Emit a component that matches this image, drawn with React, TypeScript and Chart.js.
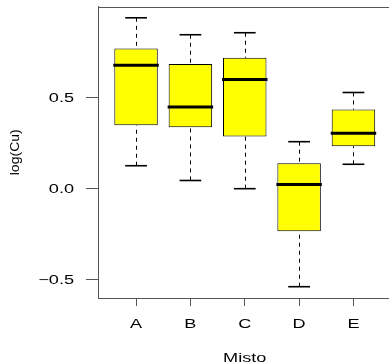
import React, { useEffect, useRef } from 'react';
import { Chart, registerables } from 'chart.js';

Chart.register(...registerables);

// ---- data ----
const categories = ['A', 'B', 'C', 'D', 'E'];
const whiskerLow = [0.126, 0.045, 0.0, -0.538, 0.134];
const lowerQuartile = [0.348, 0.337, 0.287, -0.233, 0.233];
const medians = [0.678, 0.448, 0.599, 0.023, 0.304];
const upperQuartile = [0.77, 0.685, 0.719, 0.14, 0.435];
const whiskerHigh = [0.938, 0.845, 0.856, 0.258, 0.528];
const yTickValues = [-0.5, 0, 0.5];
const yTickLabels = ['\u22120.5', '0.0', '0.5'];
const xTitle = 'Misto';
const yTitle = 'log(Cu)';

const FONT = '"Liberation Sans", Arial, Helvetica, sans-serif';
const FRAME = '#555';

function drawText(
  ctx: CanvasRenderingContext2D,
  text: string,
  x: number,
  y: number,
  size: number,
  sx: number,
  align: CanvasTextAlign,
  rotate = 0
) {
  ctx.save();
  ctx.translate(x, y);
  if (rotate) ctx.rotate(rotate);
  ctx.scale(sx, 1);
  ctx.font = `${size}px ${FONT}`;
  ctx.fillStyle = '#000';
  ctx.textAlign = align;
  ctx.textBaseline = 'alphabetic';
  ctx.fillText(text, 0, 0);
  ctx.restore();
}

const boxplotPlugin = {
  id: 'boxplotExtras',
  afterDatasetsDraw(chart: any) {
    const { ctx } = chart;
    const xs = chart.scales.x;
    const ys = chart.scales.y;
    const meta = chart.getDatasetMeta(0);
    categories.forEach((_, i) => {
      const bar = meta.data[i];
      const { x: cx, width } = bar.getProps(['x', 'width'], true);
      const left = cx - width / 2;
      const right = cx + width / 2;
      const px = Math.round(cx) + 0.5;
      ctx.save();
      ctx.strokeStyle = '#000';
      ctx.lineWidth = 1;
      ctx.setLineDash([4, 4]);
      ctx.beginPath();
      ctx.moveTo(px, ys.getPixelForValue(whiskerHigh[i]));
      ctx.lineTo(px, ys.getPixelForValue(upperQuartile[i]));
      ctx.stroke();
      ctx.beginPath();
      ctx.moveTo(px, ys.getPixelForValue(whiskerLow[i]));
      ctx.lineTo(px, ys.getPixelForValue(lowerQuartile[i]));
      ctx.stroke();
      ctx.setLineDash([]);
      const capL = xs.getPixelForValue(i + 1 - 0.2);
      const capR = xs.getPixelForValue(i + 1 + 0.2);
      ctx.lineWidth = 1.6;
      [whiskerHigh[i], whiskerLow[i]].forEach((v) => {
        const py = ys.getPixelForValue(v);
        ctx.beginPath();
        ctx.moveTo(capL, py);
        ctx.lineTo(capR, py);
        ctx.stroke();
      });
      ctx.lineWidth = 3;
      const my = ys.getPixelForValue(medians[i]);
      ctx.beginPath();
      ctx.moveTo(left - 1, my);
      ctx.lineTo(right + 1, my);
      ctx.stroke();
      ctx.restore();
    });
  },
  afterDraw(chart: any) {
    const { ctx, chartArea } = chart;
    const xs = chart.scales.x;
    const ys = chart.scales.y;
    // top frame line
    ctx.save();
    ctx.strokeStyle = FRAME;
    ctx.lineWidth = 1;
    ctx.beginPath();
    const ty = Math.round(chartArea.top) + 0.5;
    ctx.moveTo(chartArea.left, ty);
    ctx.lineTo(chartArea.right, ty);
    ctx.stroke();
    ctx.restore();

    const size = 12.5;
    const sx = 1.45;
    yTickValues.forEach((v, i) => {
      drawText(ctx, yTickLabels[i], chartArea.left - 24, ys.getPixelForValue(v) + 4.5, size, sx, 'right');
    });
    categories.forEach((c, i) => {
      drawText(ctx, c, xs.getPixelForValue(i + 1), chartArea.bottom + 29.5, size, sx, 'center');
    });
    drawText(ctx, xTitle, xs.getPixelForValue(3), chartArea.bottom + 63.5, size, sx, 'center');
    drawText(
      ctx,
      yTitle,
      19,
      (chartArea.top + chartArea.bottom) / 2,
      12,
      1.17,
      'center',
      -Math.PI / 2
    );
  },
};

export default function App() {
  const canvasRef = useRef<HTMLCanvasElement>(null);

  useEffect(() => {
    const canvas = canvasRef.current;
    if (!canvas) return;
    const chart = new Chart(canvas, {
      type: 'bar',
      data: {
        datasets: [
          {
            data: categories.map((_, i) => ({
              x: i + 1,
              y: [lowerQuartile[i], upperQuartile[i]],
            })) as any,
            backgroundColor: '#FFFF00',
            borderColor: '#000',
            borderWidth: 1,
            borderSkipped: false,
            barPercentage: 0.8,
            categoryPercentage: 1,
          },
        ],
      },
      options: {
        responsive: false,
        animation: false,
        devicePixelRatio: 1,
        layout: { padding: { top: 6.5, right: 0, bottom: 0, left: 0 } },
        plugins: { legend: { display: false }, tooltip: { enabled: false } },
        scales: {
          x: {
            type: 'linear',
            min: 0.3,
            max: 5.654,
            offset: false,
            afterBuildTicks: (scale: any) => {
              scale.ticks = categories.map((_, i) => ({ value: i + 1 }));
            },
            afterFit: (scale: any) => {
              scale.height = 66;
            },
            ticks: { display: false },
            grid: {
              offset: false,
              drawOnChartArea: false,
              drawTicks: true,
              tickLength: 8,
              color: FRAME,
              tickColor: FRAME,
              lineWidth: 1,
            },
            border: { display: true, color: FRAME, width: 1 },
          },
          y: {
            type: 'linear',
            min: -0.6,
            max: 1.0,
            beginAtZero: false,
            afterBuildTicks: (scale: any) => {
              scale.ticks = yTickValues.map((v) => ({ value: v }));
            },
            afterFit: (scale: any) => {
              scale.width = 98;
            },
            ticks: { display: false },
            grid: {
              drawOnChartArea: false,
              drawTicks: true,
              tickLength: 12,
              color: FRAME,
              tickColor: FRAME,
              lineWidth: 1,
            },
            border: { display: true, color: FRAME, width: 1 },
          },
        },
      } as any,
      plugins: [boxplotPlugin],
    });
    return () => chart.destroy();
  }, []);

  return (
    <div style={{ position: 'fixed', left: 0, top: 0, width: 389, height: 364, background: '#fff' }}>
      <canvas ref={canvasRef} width={389} height={364} style={{ display: 'block' }} />
    </div>
  );
}
